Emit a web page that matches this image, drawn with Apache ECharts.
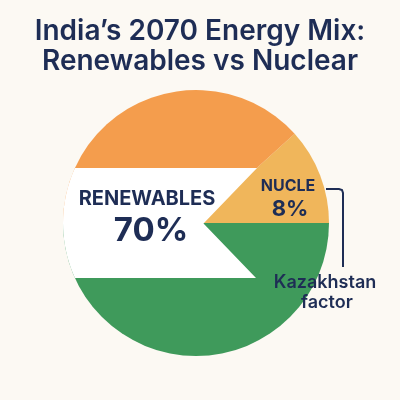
<!DOCTYPE html>
<html lang="en">
<head>
    <meta charset="UTF-8">
    <title>India's 2070 Energy Mix</title>
    <script src="https://cdn.jsdelivr.net/npm/echarts@6/dist/echarts.min.js"></script>
    <style>
        html, body { margin: 0; padding: 0; background: #fcf9f3; }
        #main { width: 400px; height: 400px; }
    </style>
</head>
<body>
<div id="main"></div>
<script type="text/javascript">
    // slices as drawn (share of the circle), flag-style: nuclear wedge, saffron top, green bottom
    var sliceNames = ['Nuclear', 'Renewables (saffron)', 'Renewables (green)'];
    var sliceShares = [11.7, 38.3, 50];
    var sliceColors = ['#f0b65b', '#f49d4d', '#3f9a5b'];

    // stated figures
    var labelNames = ['RENEWABLES', 'NUCLE'];
    var labelValues = ['70%', '8%'];
    var noteLines = ['Kazakhstan', 'factor'];

    var navy = '#1e2d55';
    var cx = 196, cy = 223, r = 133;
    var bandTop = 168, bandBottom = 278, notchX = 203.5;

    // white band across the middle, with the notch cut toward the centre
    var band = [];
    for (var i = 0; i <= 20; i++) {
        var y = bandTop + (bandBottom - bandTop) * i / 20;
        var dy = y - cy;
        band.push([cx - Math.sqrt(r * r - dy * dy), y]);
    }
    band.push([256, bandBottom]);
    band.push([notchX, cy + 0.5]);
    band.push([257, bandTop]);

    var myChart = echarts.init(document.getElementById('main'));
    var option = {
        backgroundColor: '#fcf9f3',
        animation: false,
        title: {
            text: 'India\u2019s 2070 Energy Mix:\nRenewables vs Nuclear',
            left: 'center',
            top: 17,
            padding: 0,
            textStyle: {
                fontFamily: 'Inter',
                fontSize: 28,
                fontWeight: 600,
                lineHeight: 30,
                color: navy
            }
        },
        series: [
            {
                type: 'pie',
                center: [cx, cy],
                radius: r,
                startAngle: 0,
                clockwise: false,
                silent: true,
                label: {show: false},
                labelLine: {show: false},
                itemStyle: {borderWidth: 0},
                data: sliceNames.map(function (n, k) {
                    return {name: n, value: sliceShares[k], itemStyle: {color: sliceColors[k]}};
                })
            }
        ],
        graphic: [
            {
                type: 'polygon',
                z: 100,
                silent: true,
                shape: {points: band},
                style: {fill: '#ffffff'}
            },
            {
                type: 'text', z: 101, x: 147, y: 199,
                style: {text: labelNames[0], fill: navy, font: 'bold 20px Inter', textAlign: 'center', textVerticalAlign: 'middle'}
            },
            {
                type: 'text', z: 101, x: 151, y: 231,
                style: {text: labelValues[0], fill: navy, font: 'bold 33px Inter', textAlign: 'center', textVerticalAlign: 'middle'}
            },
            {
                type: 'text', z: 101, x: 288, y: 186,
                style: {text: labelNames[1], fill: navy, font: 'bold 16px Inter', textAlign: 'center', textVerticalAlign: 'middle'}
            },
            {
                type: 'text', z: 101, x: 290, y: 209,
                style: {text: labelValues[1], fill: navy, font: 'bold 22px Inter', textAlign: 'center', textVerticalAlign: 'middle'}
            },
            {
                // leader from the nuclear label down to the note
                type: 'polyline', z: 101,
                shape: {points: [[326, 189], [339, 189], [342, 190], [343, 193], [343, 267]]},
                style: {fill: null, stroke: navy, lineWidth: 2}
            },
            {
                type: 'text', z: 101, x: 325, y: 283,
                style: {text: noteLines[0], fill: navy, font: '600 18px Inter', textAlign: 'center', textVerticalAlign: 'middle'}
            },
            {
                type: 'text', z: 101, x: 327, y: 303,
                style: {text: noteLines[1], fill: navy, font: '600 18px Inter', textAlign: 'center', textVerticalAlign: 'middle'}
            }
        ]
    };
    myChart.setOption(option);
</script>
</body>
</html>
